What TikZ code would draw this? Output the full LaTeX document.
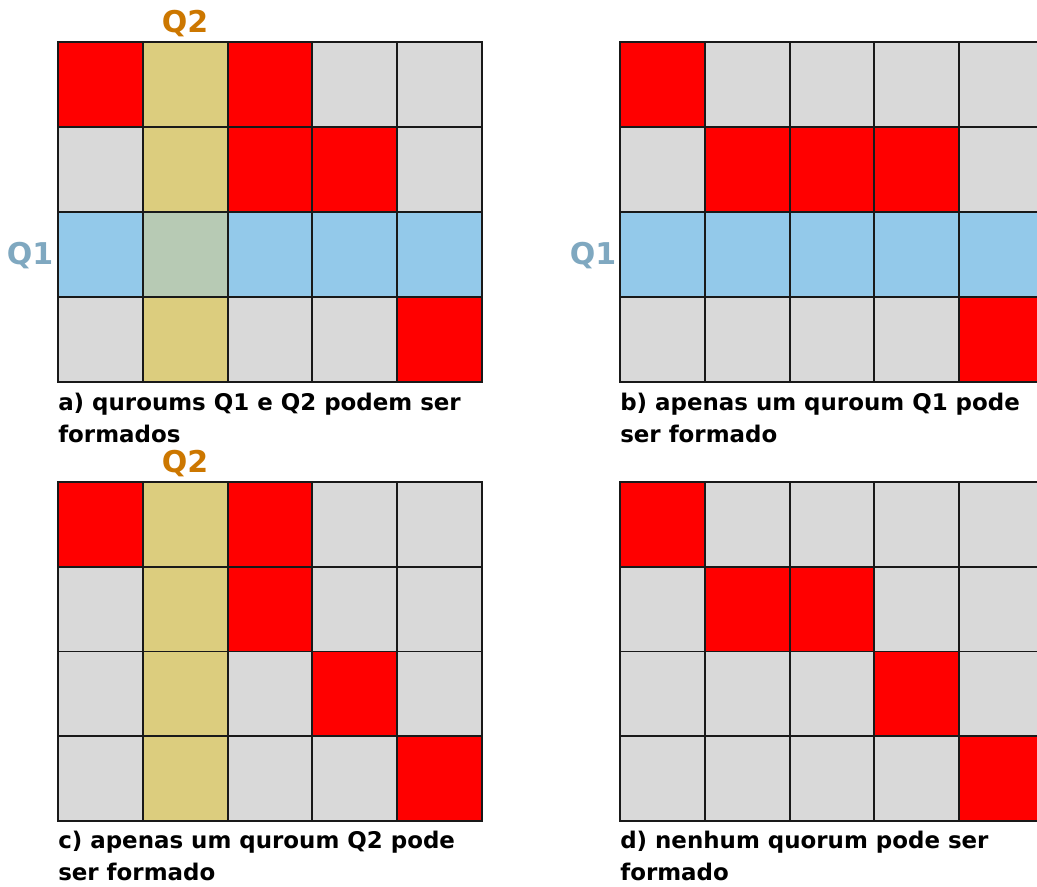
\documentclass[tikz,border=0pt]{standalone}
\usepackage{fontspec}
\setmainfont{DejaVu Sans}
\usepackage{xcolor}
\definecolor{cellR}{HTML}{FF0000}
\definecolor{cellG}{HTML}{D9D9D9}
\definecolor{cellT}{HTML}{DCCD7E}
\definecolor{cellB}{HTML}{93C9EA}
\definecolor{cellM}{HTML}{B7CAB4}
\definecolor{QuorumOrange}{HTML}{CC7700}
\definecolor{QuorumSteel}{HTML}{7FA8C0}
\tikzset{
  cell/.style={draw=black!90,line width=1.4pt},
  caption/.style={anchor=north west,align=left,inner sep=0pt,
    font=\bfseries\fontsize{17.2}{23.6}\selectfont},
  qlabel/.style={inner sep=0pt,font=\bfseries\fontsize{22.5}{26}\selectfont}
}

\begin{document}
\begin{tikzpicture}[x=0.75pt,y=-0.75pt]
  \useasboundingbox (0,0) rectangle (1037,886);
  \clip (0,0) rectangle (1037,886);
  % a) both quorums
  \foreach \row [count=\ri] in {{R,T,R,G,G},{G,T,R,R,G},{B,M,B,B,B},{G,T,G,G,R}}
    \foreach \c [count=\ci] in \row
      \draw[cell,fill=cell\c] ({58+(\ci-1)*84.8},{42+(\ri-1)*85}) rectangle ++(84.8,85);
  % b) only Q1
  \foreach \row [count=\ri] in {{R,G,G,G,G},{G,R,R,R,G},{B,B,B,B,B},{G,G,G,G,R}}
    \foreach \c [count=\ci] in \row
      \draw[cell,fill=cell\c] ({620+(\ci-1)*84.8},{42+(\ri-1)*85}) rectangle ++(84.8,85);
  % c) only Q2
  \foreach \row [count=\ri] in {{R,T,R,G,G},{G,T,R,G,G},{G,T,G,R,G},{G,T,G,G,R}}
    \foreach \c [count=\ci] in \row
      \draw[cell,fill=cell\c] ({58+(\ci-1)*84.8},{482+(\ri-1)*84.75}) rectangle ++(84.8,84.75);
  % d) none
  \foreach \row [count=\ri] in {{R,G,G,G,G},{G,R,R,G,G},{G,G,G,R,G},{G,G,G,G,R}}
    \foreach \c [count=\ci] in \row
      \draw[cell,fill=cell\c] ({620+(\ci-1)*84.8},{482+(\ri-1)*84.75}) rectangle ++(84.8,84.75);

  \node[qlabel,QuorumOrange] (q2a) at (185,24) {Q2};
  \node[qlabel,QuorumSteel] (q1a) at (30,256) {Q1};
  \node[qlabel,QuorumSteel] (q1b) at (593,256) {Q1};
  \node[qlabel,QuorumOrange] (q2c) at (185,464) {Q2};

  \node[caption] (capA) at (58,393) {a) quroums Q1 e Q2 podem ser\\formados};
  \node[caption] (capB) at (620,393) {b) apenas um quroum Q1 pode\\ser formado};
  \node[caption] (capC) at (58,831) {c) apenas um quroum Q2 pode\\ser formado};
  \node[caption] (capD) at (620,831) {d) nenhum quorum pode ser\\formado};
\end{tikzpicture}
\end{document}
